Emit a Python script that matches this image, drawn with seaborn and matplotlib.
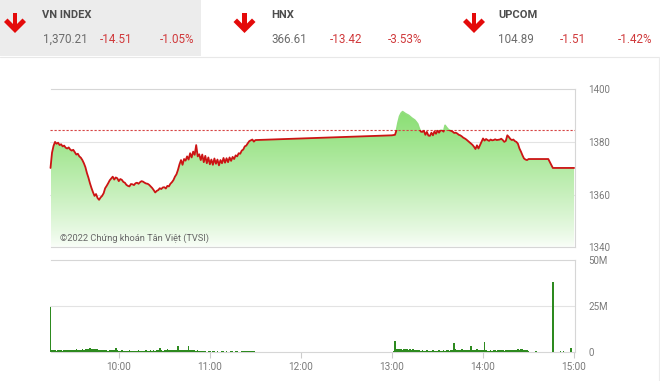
import numpy as np
import pandas as pd
import matplotlib
matplotlib.use("Agg")
import matplotlib.pyplot as plt
import seaborn as sns
from matplotlib.patches import Rectangle, Polygon

# ---------------- data ----------------
ref_close = 1384.72

morning_start = "09:15"
morning_close = [
    1370.2, 1376.0, 1378.6, 1380.1, 1379.4, 1379.8, 1378.9, 1379.2, 1378.4, 1378.7,
    1377.9, 1377.6, 1378.0, 1377.2, 1376.8, 1377.1, 1376.2, 1375.3, 1375.6, 1374.6,
    1374.1, 1373.2, 1372.0, 1370.5, 1368.3, 1366.5, 1364.4, 1362.6, 1361.0, 1359.6,
    1360.3, 1358.8, 1358.1, 1359.0, 1359.6, 1360.6, 1362.5, 1363.4, 1364.4, 1365.5,
    1366.2, 1366.9, 1365.8, 1366.6, 1366.3, 1365.2, 1366.0, 1365.7, 1364.9, 1364.6,
    1363.8, 1363.4, 1363.2, 1364.1, 1364.0, 1363.7, 1364.4, 1364.6, 1364.2, 1364.8,
    1365.2, 1365.0, 1364.6, 1364.3, 1364.2, 1363.8, 1363.2, 1362.6, 1361.8, 1360.9,
    1361.5, 1361.8, 1362.5, 1362.2, 1362.8, 1362.9, 1362.4, 1363.4, 1363.2, 1364.2,
    1364.8, 1365.6, 1366.9, 1367.8, 1369.5, 1371.6, 1373.2, 1371.4, 1373.6, 1373.0,
    1374.6, 1373.4, 1375.8, 1374.2, 1376.4, 1375.2, 1378.9, 1374.6, 1375.4, 1373.2,
    1375.3, 1372.4, 1374.8, 1372.0, 1374.2, 1371.6, 1373.4, 1371.4, 1373.8, 1371.8,
    1373.4, 1371.2, 1373.2, 1372.0, 1374.0, 1372.2, 1373.9, 1372.4, 1374.2, 1372.9,
    1374.4, 1373.6, 1375.0, 1374.6, 1375.8, 1375.6, 1376.8, 1377.2, 1378.4, 1378.7,
    1379.6, 1380.4, 1380.7, 1381.0, 1380.2, 1380.8,
]

afternoon_start = "13:00"
afternoon_close = [
    1382.6, 1382.7, 1382.8, 1384.6, 1387.5, 1389.8, 1391.0, 1391.6, 1391.2, 1390.8,
    1390.5, 1390.2, 1389.7, 1389.2, 1388.8, 1388.4, 1387.7, 1386.9, 1385.2, 1384.0,
    1383.9, 1384.4, 1382.8, 1383.9, 1382.5, 1382.4, 1383.6, 1382.6, 1384.1, 1383.2,
    1384.4, 1383.6, 1384.5, 1384.5, 1384.0, 1386.4, 1385.6, 1384.9, 1384.5, 1384.3,
    1384.0, 1383.5, 1383.6, 1383.3, 1382.8, 1382.6, 1382.2, 1381.7, 1381.4, 1381.0,
    1380.5, 1380.0, 1379.5, 1379.0, 1378.3, 1377.4, 1378.8, 1377.6, 1378.9, 1380.2,
    1381.4, 1380.6, 1381.2, 1380.8, 1380.5, 1381.0, 1380.7, 1380.8, 1381.1, 1380.8,
    1380.9, 1381.0, 1381.3, 1380.8, 1380.1, 1380.5, 1382.6, 1382.0, 1381.2, 1380.8,
    1381.0, 1380.4, 1380.1, 1379.4, 1377.6, 1376.4, 1375.0, 1373.8, 1373.4, 1373.2,
    1373.6,
]

late_times = ["14:43", "14:46", "15:00"]
late_close = [1373.6, 1370.21, 1370.21]

# volume in millions
morning_volume = [
    24.5, 1.2, 0.9, 1.1, 0.8, 1.0, 0.9, 1.2, 0.8, 1.0,
    1.1, 0.9, 1.3, 1.0, 0.9, 1.2, 1.1, 1.4, 1.0, 1.3,
    1.2, 1.5, 1.3, 1.6, 1.4, 1.7, 1.9, 1.6, 1.8, 1.5,
    1.7, 1.4, 1.2, 1.3, 1.0, 1.1, 0.9, 1.0, 0.8, 0.9,
    1.0, 1.2, 0.9, 2.2, 1.0, 0.8, 0.7, 0.9, 0.8, 0.7,
    0.8, 0.7, 0.9, 0.8, 0.6, 0.7, 0.8, 0.7, 0.9, 0.7,
    0.8, 0.7, 0.8, 0.9, 0.7, 0.8, 0.9, 0.8, 1.0, 0.8,
    0.9, 1.0, 2.2, 0.9, 0.8, 1.0, 1.1, 1.5, 1.0, 0.9,
    1.1, 1.0, 1.2, 1.1, 3.1, 1.0, 1.2, 0.9, 1.1, 1.3,
    1.0, 3.5, 1.2, 1.0, 0.9, 1.1, 0.8, 1.3, 0.7, 0.8,
    0.6, 0.7, 0.5, 0.0, 0.6, 0.5, 0.0, 0.5, 0.6, 0.0,
    0.6, 0.0, 0.0, 0.5, 0.6, 0.0, 0.5, 0.0, 0.0, 0.6,
    0.5, 0.0, 0.6, 0.6, 0.0, 0.0, 0.5, 0.6, 0.6, 0.5,
    0.6, 0.5, 0.6, 0.5, 0.6, 0.0,
]
afternoon_volume = [
    0.0, 0.8, 6.1, 1.6, 1.4, 1.7, 1.5, 1.3, 1.6, 1.4,
    1.5, 1.2, 1.6, 1.3, 1.4, 1.2, 1.1, 0.9, 1.0, 0.8,
    0.9, 0.7, 0.8, 0.9, 0.7, 0.8, 0.7, 0.9, 0.8, 0.7,
    0.8, 0.9, 0.7, 0.8, 0.9, 0.8, 1.0, 0.9, 0.8, 1.0,
    1.2, 4.9, 1.5, 1.0, 0.9, 1.1, 1.6, 1.0, 0.9, 1.2,
    1.0, 1.1, 3.0, 1.2, 0.9, 1.0, 1.5, 0.9, 1.0, 1.0,
    1.1, 5.2, 0.9, 0.8, 0.7, 0.9, 0.8, 1.0, 0.9, 0.8,
    0.9, 1.0, 1.3, 0.9, 0.8, 1.0, 0.9, 1.1, 1.0, 1.2,
    1.1, 1.3, 1.2, 1.4, 1.3, 1.5, 1.4, 1.3, 1.2, 1.0,
    0.8,
]
late_vol_times = ["14:35", "14:46", "14:51", "14:53", "14:58"]
late_volume = [0.4, 37.8, 0.7, 0.5, 2.2]

price_ticks = [1340, 1360, 1380, 1400]
volume_ticks = [0, 25, 50]
volume_tick_labels = ["0", "25M", "50M"]
time_ticks = ["10:00", "11:00", "12:00", "13:00", "14:00", "15:00"]

index_names = ["VN INDEX", "HNX", "UPCOM"]
index_values = ["1,370.21", "366.61", "104.89"]
index_changes = ["-14.51", "-13.42", "-1.51"]
index_pcts = ["-1.05%", "-3.53%", "-1.42%"]
copyright_text = "©2022 Chứng khoán Tân Việt (TVSI)"


def to_hours(t):
    h, m = t.split(":")
    return int(h) + int(m) / 60.0


def minute_axis(start, n):
    return [to_hours(start) + i / 60.0 for i in range(n)]


price_df = pd.DataFrame({
    "time": minute_axis(morning_start, len(morning_close))
            + minute_axis(afternoon_start, len(afternoon_close))
            + [to_hours(t) for t in late_times],
    "close": morning_close + afternoon_close + late_close,
})
vol_df = pd.DataFrame({
    "time": minute_axis(morning_start, len(morning_volume))
            + minute_axis(afternoon_start, len(afternoon_volume))
            + [to_hours(t) for t in late_vol_times],
    "volume": morning_volume + afternoon_volume + late_volume,
})

# ---------------- style ----------------
sns.set_style("white")
plt.rcParams["font.family"] = ["Roboto", "DejaVu Sans"]

W, H = 660, 381
fig = plt.figure(figsize=(W / 100, H / 100), dpi=100)
fig.patch.set_facecolor("white")


def px_axes(x0, y0, x1, y1, **kw):
    return fig.add_axes([x0 / W, 1 - y1 / H, (x1 - x0) / W, (y1 - y0) / H], **kw)


XMIN, XMAX = to_hours("09:15"), to_hours("15:00") + 0.6 / 60
grid_c = "#e3e3e3"
border_c = "#d6d6d6"
label_c = "#7a7a7a"

# background / header
bg = px_axes(0, 0, W, H, zorder=-10)
bg.set_xlim(0, W)
bg.set_ylim(H, 0)
bg.axis("off")
bg.add_patch(Rectangle((0, 0), 201, 56, facecolor="#ececec", edgecolor="none"))
bg.plot([0, W], [56.5, 56.5], color="#e8e8e8", lw=0.8)
bg.plot([659, 659], [57, H], color="#ececec", lw=0.8)

arrow_x = [15, 244.5, 474]
text_x = [42.5, 271.5, 498]
chg_x = [100, 330, 560]
pct_x = [160, 388, 618]
red_arrow = "#e40a0a"
for i in range(3):
    ax0 = arrow_x[i]
    bg.add_patch(Rectangle((ax0 - 2.3, 12.5), 4.6, 15, facecolor=red_arrow, edgecolor="none"))
    bg.add_patch(Polygon([(ax0 - 11, 22), (ax0 - 7.5, 18.5), (ax0, 26), (ax0 + 7.5, 18.5),
                          (ax0 + 11, 22), (ax0, 33)], closed=True,
                         facecolor=red_arrow, edgecolor="none"))
    bg.text(text_x[i], 15.5, index_names[i], fontsize=8.0, fontweight="bold",
            color="#4d4d4d", va="center", ha="left")
    bg.text(text_x[i], 39.5, index_values[i], fontsize=8.4, color="#6b6b6b",
            va="center", ha="left")
    bg.text(chg_x[i], 39.5, index_changes[i], fontsize=8.4, color="#d0393b",
            va="center", ha="left")
    bg.text(pct_x[i], 39.5, index_pcts[i], fontsize=8.4, color="#d0393b",
            va="center", ha="left")

# ---------------- price panel ----------------
ax1 = px_axes(50.5, 89.5, 575, 247.5)
ax1.set_facecolor("none")

# gradient fill under the line
fill = ax1.fill_between(price_df["time"], price_df["close"], 1340,
                        facecolor="none", edgecolor="none")
top_rgb = np.array([135, 222, 112]) / 255.0
bot_rgb = np.array([250, 254, 249]) / 255.0
tt = np.linspace(0, 1, 256)[:, None] ** 0.85
grad = (bot_rgb + (top_rgb - bot_rgb) * tt)[:, None, :]
im = ax1.imshow(grad, extent=[XMIN, XMAX, 1340, 1393], origin="lower",
                aspect="auto", zorder=1, interpolation="bilinear")
im.set_clip_path(fill.get_paths()[0], transform=ax1.transData)

# reference line
ax1.axhline(ref_close, color="#d64545", lw=0.8, ls=(0, (2, 1.6)), zorder=3)

# price line: red below the reference, green above
sns.lineplot(data=price_df, x="time", y="close", ax=ax1, color="#cc1414",
             lw=1.3, estimator=None, sort=False, zorder=4)
red_line = ax1.lines[-1]
red_line.set_clip_path(Rectangle((XMIN - 1, 1300), XMAX - XMIN + 2, ref_close - 1300,
                                 transform=ax1.transData))
sns.lineplot(data=price_df, x="time", y="close", ax=ax1, color="#92de7e",
             lw=1.2, estimator=None, sort=False, zorder=4)
green_line = ax1.lines[-1]
green_line.set_clip_path(Rectangle((XMIN - 1, ref_close), XMAX - XMIN + 2, 100,
                                   transform=ax1.transData))

ax1.set_xlim(XMIN, XMAX)
ax1.set_ylim(1340, 1400)
ax1.set_yticks(price_ticks)
ax1.set_yticklabels([str(v) for v in price_ticks])
ax1.yaxis.tick_right()
ax1.tick_params(axis="y", length=0, pad=9.5, labelsize=7, labelcolor=label_c)
ax1.set_xticks([])
ax1.set_xlabel("")
ax1.set_ylabel("")
for v in [1360, 1380]:
    ax1.axhline(v, color=grid_c, lw=0.8, zorder=0.5)
for side in ["top", "right", "bottom"]:
    ax1.spines[side].set_color(border_c)
    ax1.spines[side].set_linewidth(0.8)
ax1.spines["left"].set_visible(False)

fig.text(60 / W, 1 - 238 / H, copyright_text, fontsize=6.7, color="#666666",
         va="center", ha="left")

# ---------------- volume panel ----------------
ax2 = px_axes(50.5, 259.5, 575, 352)
ax2.set_facecolor("none")
sns.barplot(data=vol_df, x="time", y="volume", ax=ax2, native_scale=True,
            color="#2d8a1f", saturation=1, width=1.0, errorbar=None,
            linewidth=0, zorder=3)
ax2.axhline(25, color=grid_c, lw=0.8, zorder=0.5)
ax2.set_xlim(XMIN, XMAX)
ax2.set_ylim(0, 50)
ax2.set_yticks(volume_ticks)
ax2.set_yticklabels(volume_tick_labels)
ax2.yaxis.tick_right()
ax2.tick_params(axis="y", length=0, pad=9.5, labelsize=7, labelcolor=label_c)
ax2.set_xticks([to_hours(t) for t in time_ticks])
ax2.set_xticklabels(time_ticks)
ax2.tick_params(axis="x", length=4, width=0.8, color="#cccccc", pad=3,
                labelsize=7.2, labelcolor=label_c, direction="out", bottom=True)
ax2.set_xlabel("")
ax2.set_ylabel("")
for side in ["top", "right", "bottom"]:
    ax2.spines[side].set_color(border_c)
    ax2.spines[side].set_linewidth(0.8)
ax2.spines["left"].set_visible(False)

fig.savefig("out.png", dpi=100, facecolor="white")
